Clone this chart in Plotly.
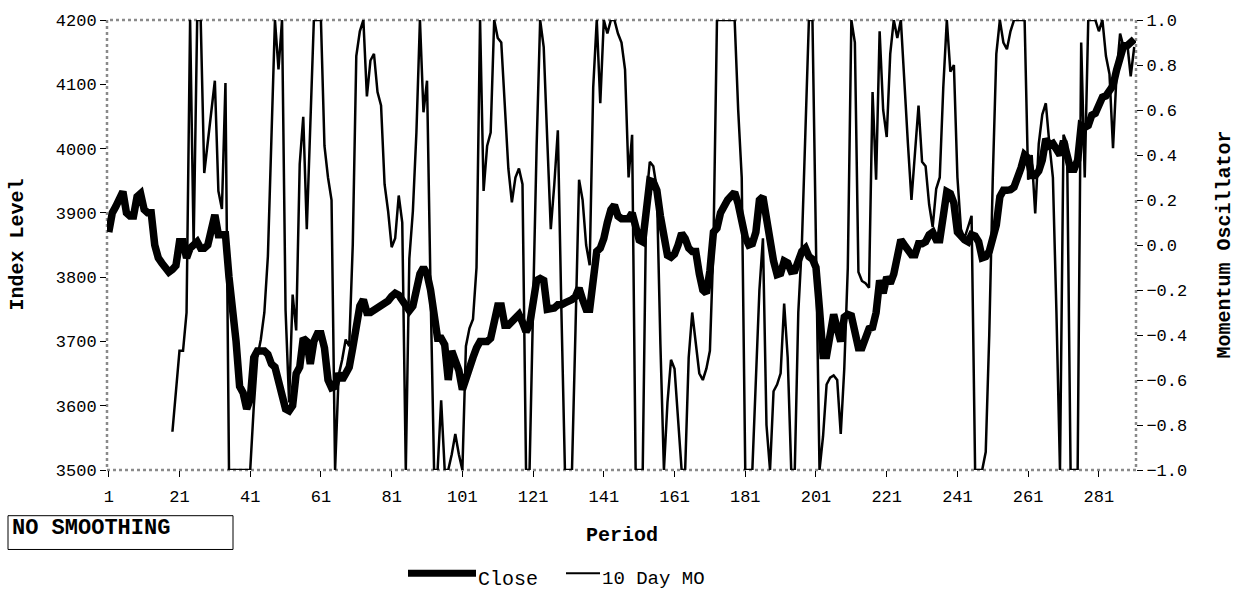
import plotly.graph_objects as go

periods = list(range(1, 292))

close = [
    3870, 3900, 3910, 3920, 3933, 3900, 3895, 3895, 3925, 3930,
    3905, 3900, 3900, 3850, 3830, 3822, 3812, 3808, 3812, 3818,
    3855, 3855, 3830, 3845, 3850, 3855, 3845, 3845, 3850, 3880,
    3897, 3866, 3866, 3866, 3800, 3760, 3700, 3630, 3620, 3595,
    3610, 3675, 3685, 3685, 3685, 3680, 3665, 3660, 3640, 3615,
    3595, 3592, 3600, 3650, 3660, 3705, 3700, 3665, 3700, 3712,
    3712, 3690, 3640, 3628, 3630, 3650, 3640, 3650, 3660, 3690,
    3725, 3755, 3765, 3745, 3745, 3748, 3752, 3755, 3757, 3763,
    3770, 3775, 3772, 3765, 3755, 3748, 3755, 3780, 3805, 3815,
    3805, 3780, 3730, 3705, 3705, 3695, 3640, 3685, 3670, 3655,
    3625, 3645, 3665, 3675, 3690, 3700, 3700, 3700, 3705, 3735,
    3755, 3755, 3725, 3725, 3730, 3738, 3742, 3730, 3715, 3725,
    3760, 3795, 3798, 3795, 3750, 3750, 3752, 3757, 3757, 3760,
    3762, 3765, 3770, 3783, 3765, 3750, 3750, 3790, 3840, 3845,
    3860, 3885, 3905, 3912, 3895, 3891, 3891, 3891, 3900, 3880,
    3858, 3855, 3900, 3950, 3948, 3935, 3895, 3860, 3834, 3831,
    3836, 3850, 3868, 3860, 3845, 3840, 3840, 3805, 3780, 3775,
    3810, 3870, 3876, 3900, 3912, 3920, 3926, 3932, 3914, 3885,
    3862, 3850, 3852, 3870, 3920, 3925, 3885, 3855, 3825, 3804,
    3806, 3825, 3822, 3809, 3810, 3825, 3840, 3845, 3832, 3828,
    3815, 3750, 3678, 3678, 3720, 3742, 3720, 3700, 3738, 3742,
    3740, 3712, 3690, 3690, 3705, 3720, 3722, 3745, 3795, 3775,
    3800, 3790, 3805, 3830, 3858, 3850, 3840, 3835, 3835, 3852,
    3852, 3855, 3866, 3870, 3858, 3858, 3895, 3933, 3930, 3915,
    3870, 3862, 3858, 3855, 3866, 3864, 3855, 3830, 3832, 3840,
    3860, 3881, 3925, 3935, 3935, 3936, 3940, 3953, 3970, 3990,
    3985, 3958, 3958, 3965, 3982, 4015, 4005, 4008, 3998, 3990,
    4012, 3992, 3968, 3968, 3982, 4036, 4033, 4036, 4052, 4055,
    4070, 4080, 4082, 4088, 4098, 4122, 4146, 4160, 4160, 4166, 4170,
]

mo = [None] * 18 + [
    -0.83, -0.65,
    -0.47, -0.47, -0.3, 1.0, 0.0, 1.0, 1.0, 0.32, 0.45, 0.6,
    0.73, 0.24, 0.16, 0.72, -1.0, -1.0, -1.0, -1.0, -1.0, -1.0,
    -1.0, -0.72, -0.5, -0.42, -0.3, -0.05, 0.45, 1.0, 0.78, 1.0,
    -0.29, -0.7, -0.22, -0.38, 0.36, 0.57, 0.07, 0.5, 1.0, 1.0,
    1.0, 0.44, 0.3, 0.2, -1.0, -0.58, -0.51, -0.42, -0.45, 0.0,
    0.84, 0.95, 1.0, 0.66, 0.82, 0.85, 0.68, 0.62, 0.27, 0.15,
    -0.01, 0.03, 0.22, 0.1, -1.0, -0.06, 0.15, 0.5, 1.0, 0.59,
    0.73, -0.2, -1.0, -1.0, -0.69, -1.0, -1.0, -0.93, -0.84, -0.93,
    -1.0, -0.45, -0.37, -0.33, -0.1, 1.0, 0.24, 0.44, 0.5, 1.0,
    0.92, 0.9, 0.6, 0.34, 0.19, 0.3, 0.34, 0.27, -1.0, -1.0,
    -0.27, 0.44, 1.0, 0.88, 0.47, 0.07, 0.27, 0.51, -0.29, -1.0,
    -1.0, -1.0, -0.37, 0.29, 0.2, 0.0, -0.09, 0.7, 1.0, 0.63,
    1.0, 0.94, 1.0, 1.0, 0.94, 0.9, 0.78, 0.3, 0.49, -1.0,
    -1.0, -1.0, 0.2, 0.37, 0.35, 0.25, -0.44, -1.0, -0.7, -0.51,
    -0.55, -0.8, -1.0, -1.0, -0.5, -0.3, -0.45, -0.57, -0.6, -0.55,
    -0.47, 0.0, 1.0, 1.0, 1.0, 1.0, 1.0, 1.0, 0.6, 0.3,
    -1.0, -1.0, -1.0, -0.6, -0.2, 0.03, -0.8, -1.0, -0.65, -0.62,
    -0.57, -0.26, -0.5, -1.0, -1.0, -0.3, 0.0, 0.5, 1.0, 1.0,
    0.0, -1.0, -0.85, -0.62, -0.59, -0.58, -0.6, -0.84, -0.55, -0.1,
    1.0, 0.9, -0.12, -0.16, -0.17, -0.19, 0.68, 0.29, 0.95, 0.6,
    0.48, 0.85, 1.0, 0.92, 1.0, 0.7, 0.45, 0.2, 0.4, 0.62,
    0.37, 0.35, 0.18, 0.08, 0.25, 0.3, 0.7, 1.0, 0.77, 0.8,
    0.3, 0.07, 0.03, 0.08, 0.13, -1.0, -1.0, -1.0, -0.92, -0.4,
    0.3, 0.85, 1.0, 0.9, 0.87, 0.95, 1.0, 1.0, 1.0, 1.0,
    0.29, 0.4, 0.14, 0.45, 0.58, 0.63, 0.45, 0.3, -0.3, -1.0,
    0.49, 0.45, -1.0, -1.0, -1.0, 0.9, 0.3, 1.0, 1.0, 1.0,
    0.95, 1.0, 0.84, 0.76, 0.43, 0.76, 0.94, 0.88, 0.9, 0.75, 0.88,
]

x_ticks = list(range(1, 282, 20))
left_ticks = list(range(3500, 4201, 100))
right_ticks = [round(-1 + 0.2 * i, 1) for i in range(11)]

FONT = "Liberation Mono, Courier New, monospace"
W, H = 1241, 592
L, R, T, B = 107, 105, 17, 122
PW, PH = W - L - R, H - T - B


def px(xp):
    return (xp - L) / PW


def py(yp):
    return (H - B - yp) / PH


fig = go.Figure()
fig.add_trace(go.Scatter(x=periods, y=close, mode="lines", name="Close",
                         line=dict(color="black", width=7.5), yaxis="y"))
fig.add_trace(go.Scatter(x=periods, y=mo, mode="lines", name="10 Day MO",
                         line=dict(color="black", width=2.5), yaxis="y2"))

axis_common = dict(showgrid=False, zeroline=False, showline=False,
                   ticks="outside", ticklen=6, tickwidth=1, tickcolor="black",
                   tickfont=dict(family=FONT, size=17, color="black"))

fig.update_layout(
    width=W, height=H,
    margin=dict(l=L, r=R, t=T, b=B),
    paper_bgcolor="white", plot_bgcolor="white",
    showlegend=False,
    font=dict(family=FONT, color="black", size=17),
    xaxis=dict(range=[0.5, 291.5], tickmode="array", tickvals=x_ticks,
               ticktext=[str(v) for v in x_ticks], ticklabelstandoff=5,
               **axis_common),
    yaxis=dict(range=[3500, 4200], tickmode="array", tickvals=left_ticks,
               ticktext=[str(v) for v in left_ticks], **axis_common),
    yaxis2=dict(range=[-1, 1], overlaying="y", side="right", tickmode="array",
                tickvals=right_ticks,
                ticktext=[("\u2212" if v < 0 else "") + f"{abs(v):.1f}" for v in right_ticks],
                **axis_common),
)

shapes = [
    dict(type="rect", xref="paper", yref="paper", x0=0, x1=1, y0=0, y1=1,
         line=dict(color="#8a8a8a", width=2.5, dash="dot"), layer="below"),
    dict(type="rect", xref="paper", yref="paper", x0=px(8), x1=px(233),
         y0=py(550), y1=py(516), line=dict(color="black", width=1)),
    dict(type="line", xref="paper", yref="paper", x0=px(408), x1=px(476),
         y0=py(574), y1=py(574), line=dict(color="black", width=7)),
    dict(type="line", xref="paper", yref="paper", x0=px(566), x1=px(600),
         y0=py(574), y1=py(574), line=dict(color="black", width=2)),
]
fig.update_layout(shapes=shapes)

ann = [
    dict(text="<b>Period</b>", x=px(622), y=py(536), xanchor="center", yanchor="middle",
         font=dict(family=FONT, size=20)),
    dict(text="<b>Index Level</b>", x=px(18), y=py(243), xanchor="center", yanchor="middle",
         textangle=-90, font=dict(family=FONT, size=20)),
    dict(text="<b>Momentum Oscillator</b>", x=px(1225), y=py(243), xanchor="center",
         yanchor="middle", textangle=-90, font=dict(family=FONT, size=20)),
    dict(text="<b>NO SMOOTHING</b>", x=px(10), y=py(529), xanchor="left", yanchor="middle",
         font=dict(family=FONT, size=22)),
    dict(text="Close", x=px(476), y=py(580), xanchor="left", yanchor="middle",
         font=dict(family=FONT, size=20)),
    dict(text="10 Day MO", x=px(600), y=py(580), xanchor="left", yanchor="middle",
         font=dict(family=FONT, size=19)),
]
for a in ann:
    a.update(xref="paper", yref="paper", showarrow=False)
fig.update_layout(annotations=ann)

fig.write_html("out.html")
